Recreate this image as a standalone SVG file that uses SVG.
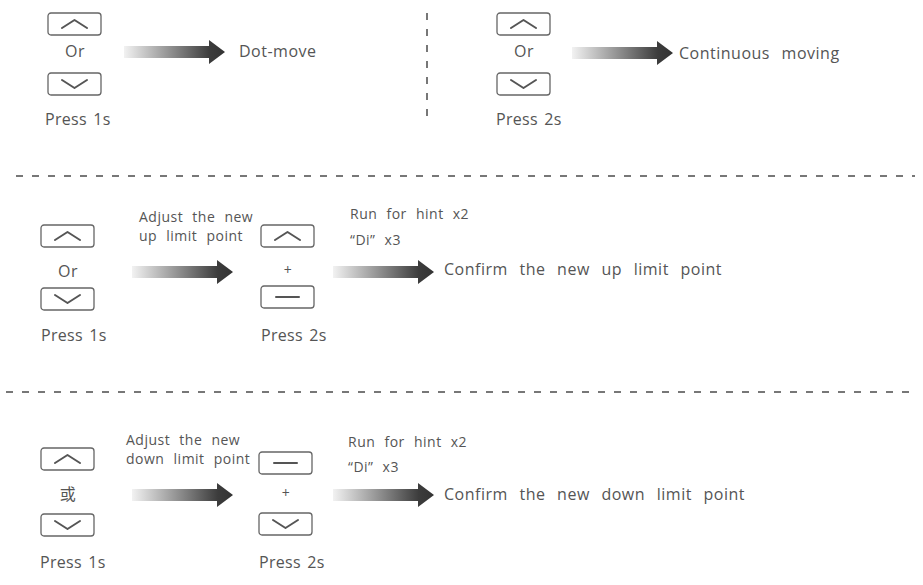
<svg xmlns="http://www.w3.org/2000/svg" width="923" height="585" viewBox="0 0 923 585">
<style>
.t{font-family:"Open Sans","Liberation Sans",sans-serif;fill:#555;font-size:16px;letter-spacing:0.5px;word-spacing:7px}
.p{font-family:"Open Sans","Liberation Sans",sans-serif;fill:#555;font-size:16px;letter-spacing:0.3px;word-spacing:2px}
.s{font-family:"Open Sans","Liberation Sans",sans-serif;fill:#555;font-size:14px;letter-spacing:0.5px;word-spacing:5px}
.c{text-anchor:middle}
.btn{fill:#fff;stroke:#666;stroke-width:1.3}
.g{fill:none;stroke:#555;stroke-width:2;stroke-linecap:round;stroke-linejoin:round}
.dash{stroke:#777;stroke-width:2;stroke-dasharray:7 9;fill:none}
</style>
<defs>
<linearGradient id="ag" x1="0" y1="0" x2="1" y2="0">
<stop offset="0" stop-color="#f2f2f2"/>
<stop offset="0.85" stop-color="#3c3c3c"/>
<stop offset="1" stop-color="#333"/>
</linearGradient>
<g id="up"><rect class="btn" x="0" y="0" width="53" height="22" rx="3"/><path class="g" d="M14 15 L26.5 7 L39 15"/></g>
<g id="down"><rect class="btn" x="0" y="0" width="53" height="22" rx="3"/><path class="g" d="M14 7 L26.5 15 L39 7"/></g>
<g id="minus"><rect class="btn" x="0" y="0" width="53" height="22" rx="3"/><path class="g" d="M15 11 L38 11"/></g>
<path id="arr" d="M0 6 L85 6 L85 0 L101 12 L85 24 L85 18 L0 18 Z" fill="url(#ag)"/>
</defs>
<g id="separators">
<path class="dash" d="M427 13 V122"/>
<path class="dash" d="M16 176 H915"/>
<path class="dash" d="M6 392 H915"/>
</g>
<g id="connectors">
<use href="#arr" x="124" y="40"/>
<use href="#arr" x="572" y="41"/>
<use href="#arr" x="132" y="260"/>
<use href="#arr" x="333" y="260"/>
<use href="#arr" x="132" y="483"/>
<use href="#arr" x="333" y="483"/>
</g>
<g id="n1">
<use href="#up" x="48" y="13"/>
<text class="t c" x="75" y="57">Or</text>
<use href="#down" x="48" y="73"/>
<text class="p" x="45" y="125">Press 1s</text>
</g>
<g id="n1r"><text class="t" x="239" y="57">Dot-move</text></g>
<g id="n2">
<use href="#up" x="497" y="13"/>
<text class="t c" x="524" y="57">Or</text>
<use href="#down" x="497" y="73"/>
<text class="p" x="496" y="125">Press 2s</text>
</g>
<g id="n2r"><text class="t" x="679" y="59">Continuous moving</text></g>
<g id="n3">
<use href="#up" x="41" y="225"/>
<text class="t c" x="68" y="277">Or</text>
<use href="#down" x="41" y="288"/>
<text class="p" x="41" y="341">Press 1s</text>
</g>
<g id="n3a">
<text class="s" x="139" y="222">Adjust the new</text>
<text class="s" x="139" y="241">up limit point</text>
</g>
<g id="n4">
<use href="#up" x="261" y="225"/>
<text class="s c" x="288" y="275">+</text>
<use href="#minus" x="261" y="286"/>
<text class="p" x="261" y="341">Press 2s</text>
</g>
<g id="n4a">
<text class="s" x="350" y="219">Run for hint x2</text>
<text class="s" x="350" y="245">“Di” x3</text>
</g>
<g id="n4r"><text class="t" x="444" y="275">Confirm the new up limit point</text></g>
<g id="n5">
<use href="#up" x="41" y="448"/>
<text class="t c" x="68" y="500" style="font-family:'Noto Sans CJK SC',sans-serif">或</text>
<use href="#down" x="41" y="514"/>
<text class="p" x="40" y="568">Press 1s</text>
</g>
<g id="n5a">
<text class="s" x="126" y="445">Adjust the new</text>
<text class="s" x="126" y="464">down limit point</text>
</g>
<g id="n6">
<use href="#minus" x="259" y="452"/>
<text class="s c" x="286" y="498">+</text>
<use href="#down" x="259" y="513"/>
<text class="p" x="259" y="568">Press 2s</text>
</g>
<g id="n6a">
<text class="s" x="348" y="447">Run for hint x2</text>
<text class="s" x="348" y="472">“Di” x3</text>
</g>
<g id="n6r"><text class="t" x="444" y="500">Confirm the new down limit point</text></g>
</svg>
